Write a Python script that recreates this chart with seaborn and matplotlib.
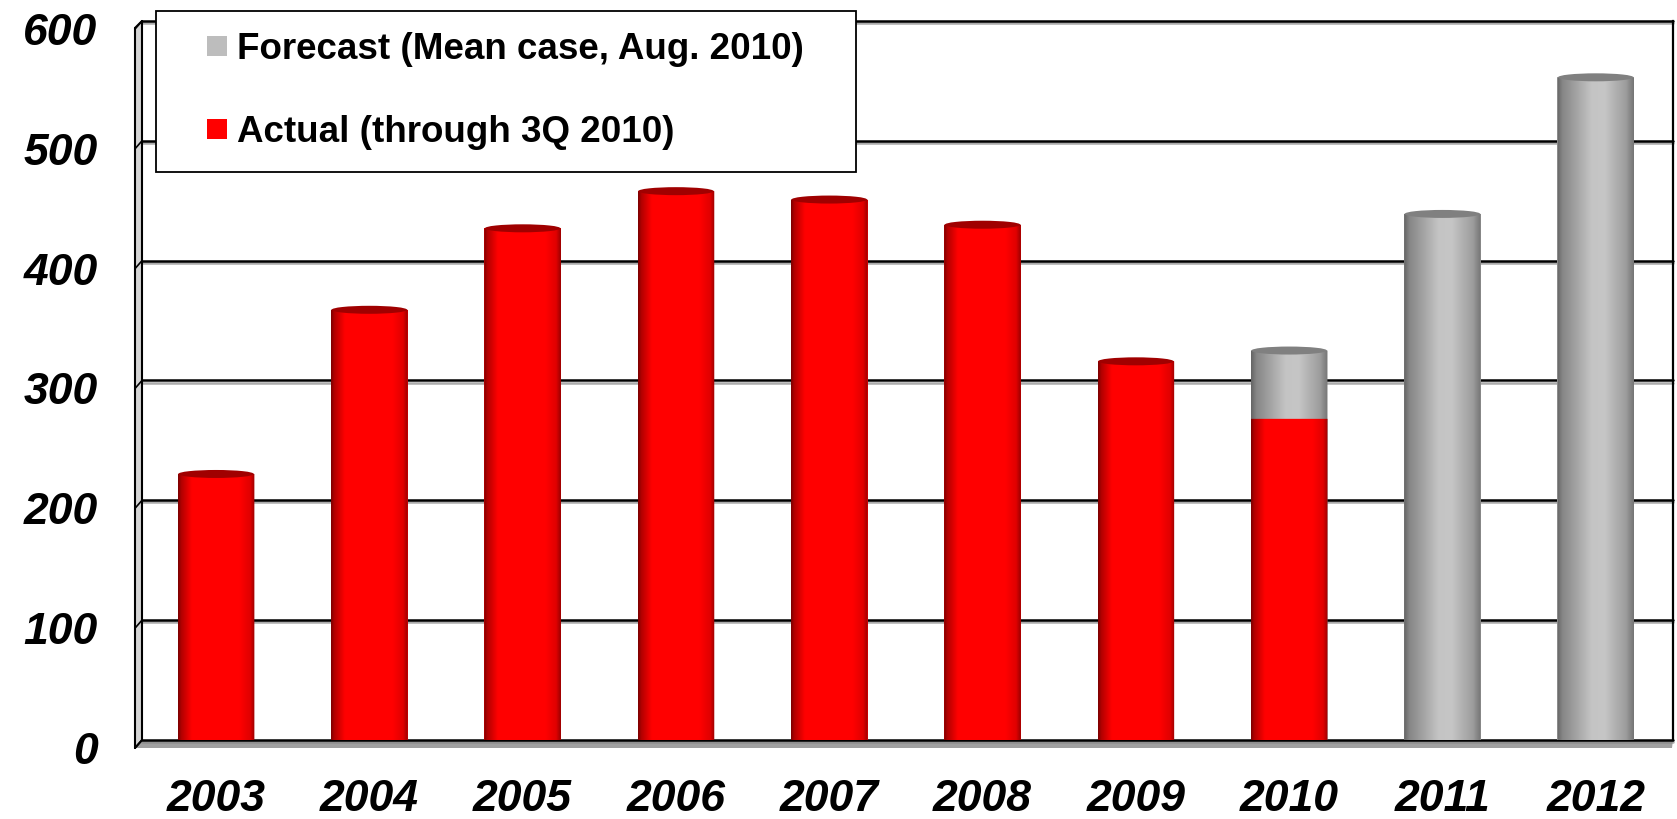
import numpy as np
import pandas as pd
import matplotlib
matplotlib.use("Agg")
import matplotlib.pyplot as plt
import matplotlib.transforms as mtransforms
import matplotlib.patheffects as pe
import seaborn as sns
from matplotlib.patches import Ellipse, PathPatch, Patch, Rectangle, Polygon
from matplotlib.path import Path
from matplotlib.lines import Line2D
from matplotlib.legend_handler import HandlerPatch
from matplotlib.colors import LinearSegmentedColormap

# ---- data -------------------------------------------------------------
years = ["2003", "2004", "2005", "2006", "2007", "2008", "2009", "2010", "2011", "2012"]
actual = [222, 359, 427, 458, 451, 430, 316, 268, np.nan, np.nan]
forecast = [np.nan, np.nan, np.nan, np.nan, np.nan, np.nan, np.nan, 325, 439, 553]
y_ticks = [0, 100, 200, 300, 400, 500, 600]
label_forecast = "Forecast (Mean case, Aug. 2010)"
label_actual = "Actual (through 3Q 2010)"

# ---- styling ----------------------------------------------------------
sns.set_style("white")
plt.rcParams["font.family"] = ["Liberation Sans", "DejaVu Sans"]
plt.rcParams["text.color"] = "black"

RED = "#ff0000"
GRAY = "#c0c0c0"
red_shade = LinearSegmentedColormap.from_list(
    "red_cyl",
    [(0.0, "#7a0000"), (0.04, "#b00000"), (0.18, "#ff0000"),
     (0.8, "#ff0000"), (0.94, "#e00000"), (1.0, "#9a0000")])
gray_shade = LinearSegmentedColormap.from_list(
    "gray_cyl",
    [(0.0, "#646464"), (0.07, "#868686"), (0.45, "#c4c4c4"),
     (0.62, "#c6c6c6"), (0.9, "#9c9c9c"), (1.0, "#747474")])
RED_CAP = "#a00000"
GRAY_CAP = "#808080"

W, H = 1677, 819
fig = plt.figure(figsize=(W / 100, H / 100), dpi=100)
ax = fig.add_axes([142 / W, 79 / H, (1673 - 142) / W, 719 / H])

df = pd.DataFrame({"year": years, "actual": actual, "forecast": forecast})

# forecast totals first, actual values drawn on top of them
n0 = len(ax.patches)
sns.barplot(data=df.dropna(subset=["forecast"]), x="year", y="forecast",
            order=years, color=GRAY, width=0.5, ax=ax, saturation=1)
gray_bars = list(ax.patches[n0:])
n1 = len(ax.patches)
sns.barplot(data=df.dropna(subset=["actual"]), x="year", y="actual",
            order=years, color=RED, width=0.5, ax=ax, saturation=1)
red_bars = list(ax.patches[n1:])

ax.set_ylim(0, 600)
ax.set_xlim(-0.483, 9.504)
px_per_unit = 719 / 600.0
cap_h = 8 / px_per_unit       # top ellipse height in data units
base_b = 7 / px_per_unit      # depth of rounded bottom in data units

grad = np.linspace(0, 1, 256).reshape(1, -1)


def cylinder(patch, cmap, cap_color, draw_cap, z):
    x0 = patch.get_x()
    w = patch.get_width()
    h = patch.get_height()
    if not np.isfinite(h) or h <= 0:
        return
    patch.set_edgecolor("none")
    patch.set_zorder(z - 0.05)
    cx = x0 + w / 2
    th = np.linspace(np.pi, 2 * np.pi, 60)
    bx = cx + (w / 2) * np.cos(th)
    by = base_b * np.sin(th)
    verts = [(x0, h), (x0, 0)] + list(zip(bx, by)) + [(x0 + w, 0), (x0 + w, h), (x0, h)]
    codes = [Path.MOVETO] + [Path.LINETO] * (len(verts) - 2) + [Path.CLOSEPOLY]
    clip = PathPatch(Path(verts, codes), transform=ax.transData, facecolor="none",
                     edgecolor="none")
    im = ax.imshow(grad, cmap=cmap, aspect="auto", interpolation="bilinear",
                   extent=(x0, x0 + w, -base_b, h), zorder=z)
    im.set_clip_path(clip)
    im.set_clip_box(None)
    if draw_cap:
        cap = Ellipse((cx, h), w * 0.985, cap_h, facecolor=cap_color,
                      edgecolor="none", zorder=z + 0.1)
        ax.add_patch(cap)


for p in gray_bars:
    cylinder(p, gray_shade, GRAY_CAP, True, 2.0)
for p in red_bars:
    idx = int(round(p.get_x() + p.get_width() / 2))
    cylinder(p, red_shade, RED_CAP, not np.isfinite(forecast[idx]), 2.4)

ax.set_xlim(-0.483, 9.504)
ax.set_ylim(0, 600)
ax.set_yticks(y_ticks)
ax.set_yticklabels([str(v) for v in y_ticks])
ax.set_xlabel("")
ax.set_ylabel("")

# gridlines on the back wall
ax.set_axisbelow(True)
ax.yaxis.grid(True, color="black", linewidth=1.8,
              path_effects=[pe.SimpleLineShadow(offset=(0, -1.5), shadow_color="#888888", alpha=0.7),
                            pe.Normal()])
for gl in ax.get_ygridlines():
    gl.set_clip_on(False)
ax.xaxis.grid(False)

for s in ("top", "left", "bottom"):
    ax.spines[s].set_visible(False)
ax.spines["right"].set_visible(True)
ax.spines["right"].set_color("black")
ax.spines["right"].set_linewidth(1.6)

ax.tick_params(axis="both", length=0, labelcolor="black")
ax.tick_params(axis="y", pad=32)
ax.tick_params(axis="x", pad=28)
for lab in ax.get_yticklabels() + ax.get_xticklabels():
    lab.set_fontsize(32)
    lab.set_fontweight("bold")
    lab.set_fontstyle("italic")
    lab.set_color("black")
shift = mtransforms.ScaledTranslation(0, -8 / 100, fig.dpi_scale_trans)
for lab in ax.get_yticklabels():
    lab.set_transform(lab.get_transform() + shift)

# floor and side wall of the 3-D frame
fig.canvas.draw()
bl = ax.transAxes.transform((0, 0))
tr = ax.transAxes.transform((1, 1))
dx, dy = 7, 8
ident = mtransforms.IdentityTransform()
floor = Polygon([(bl[0] - dx, bl[1] - dy), (bl[0], bl[1]), (tr[0], bl[1]),
                 (tr[0] - 1, bl[1] - dy)], closed=True, transform=ident,
                facecolor="#a0a0a0", edgecolor="none", clip_on=False, zorder=0.3)
ax.add_patch(floor)
wall = Polygon([(bl[0] - dx, bl[1] - dy), (bl[0] - dx, tr[1] - dy + 1), (bl[0], tr[1]),
                (bl[0], bl[1])], closed=True, transform=ident,
               facecolor="#d4d4d4", edgecolor="none", clip_on=False, zorder=3)
ax.add_patch(wall)
for xs, ys in [((bl[0] - dx, bl[0] - dx), (bl[1] - dy, tr[1] - dy + 1)),
               ((bl[0], bl[0]), (bl[1], tr[1])),
               ((bl[0] - dx, bl[0]), (tr[1] - dy + 1, tr[1])),
               ((bl[0] - dx, bl[0]), (bl[1] - dy, bl[1]))]:
    ax.add_line(Line2D(xs, ys, transform=ident, color="black", linewidth=1.5,
                       clip_on=False, zorder=3.1))
for v in y_ticks:
    yy = ax.transData.transform((0, v))[1]
    ax.add_line(Line2D((bl[0] - dx, bl[0]), (yy - dy, yy), transform=ident,
                       color="black", linewidth=1.2, clip_on=False, zorder=3.1))


# legend with square swatches
def square(legend, orig_handle, xdescent, ydescent, width, height, fontsize):
    s = 0.55 * fontsize
    return Rectangle((-xdescent + width - s, -ydescent + height / 2 - s / 2), s, s)


handles = [Patch(facecolor="#bdbdbd", edgecolor="none"),
           Patch(facecolor=RED, edgecolor="none")]
leg = ax.legend(handles, [label_forecast, label_actual],
                loc="upper left", mode="expand",
                bbox_to_anchor=(156 / W, 1 - 11 / H, 700 / W, 0),
                bbox_transform=fig.transFigure,
                prop={"weight": "bold", "size": 26.5},
                handlelength=1.36, handleheight=0.6, handletextpad=0.25,
                borderpad=0.58, labelspacing=1.3, borderaxespad=0,
                fancybox=False, framealpha=1, edgecolor="black",
                handler_map={Patch: HandlerPatch(patch_func=square)})
leg.get_frame().set_linewidth(1.3)
for t in leg.get_texts():
    t.set_color("black")
leg.set_zorder(10)

fig.savefig("out.png", dpi=100)
